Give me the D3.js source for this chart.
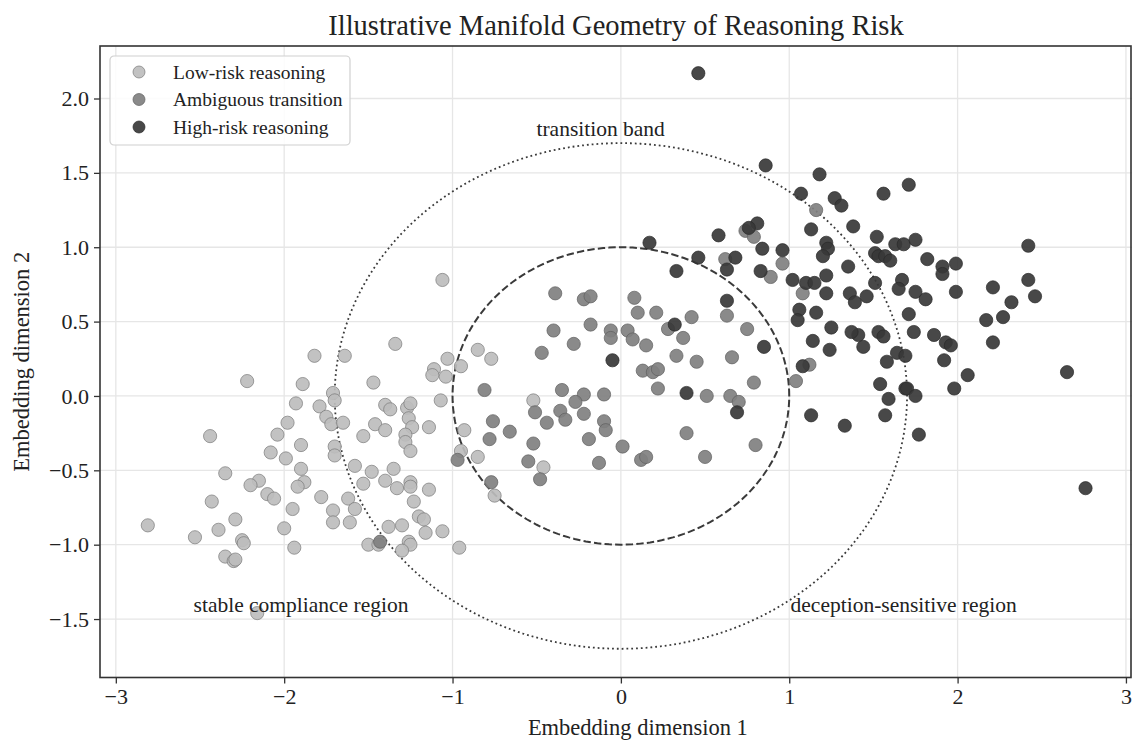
<!DOCTYPE html>
<html>
  <head>
    <meta charset="utf-8">
    <script src="https://d3js.org/d3.v7.min.js"></script>
    <style>
      body { margin: 0; background: #fff; }
      svg text { font-family: "Liberation Serif", "Times New Roman", serif; fill: #222; }
    </style>
  </head>
<body>
  <script type="text/javascript">

    // low-risk reasoning points [x, y]
    var lowRisk = [
      [-2.22, 0.10], [-1.82, 0.27], [-1.64, 0.27], [-1.34, 0.35], [-1.89, 0.08], [-1.47, 0.09],
      [-1.71, 0.02], [-1.70, -0.03], [-1.93, -0.05], [-1.79, -0.07], [-1.40, -0.06], [-1.37, -0.09],
      [-1.75, -0.14], [-1.98, -0.18], [-1.72, -0.19], [-1.65, -0.18], [-1.46, -0.19], [-1.40, -0.23],
      [-2.44, -0.27], [-2.04, -0.26], [-1.53, -0.27], [-1.90, -0.33], [-2.08, -0.38], [-1.99, -0.42],
      [-1.70, -0.34], [-1.70, -0.40], [-1.58, -0.47], [-1.48, -0.51], [-1.35, -0.49], [-1.90, -0.49],
      [-2.35, -0.52], [-2.15, -0.57], [-2.20, -0.60], [-1.88, -0.58], [-1.92, -0.61], [-1.53, -0.59],
      [-1.40, -0.57], [-1.33, -0.62], [-2.10, -0.66], [-2.06, -0.69], [-1.78, -0.68], [-1.62, -0.69],
      [-2.43, -0.71], [-1.95, -0.76], [-1.71, -0.77], [-1.58, -0.76], [-2.29, -0.83], [-1.71, -0.85],
      [-1.61, -0.85], [-1.38, -0.88], [-2.81, -0.87], [-2.39, -0.90], [-2.00, -0.89], [-2.53, -0.95],
      [-2.25, -0.97], [-2.24, -0.99], [-1.94, -1.02], [-1.50, -1.00], [-1.44, -1.00], [-2.35, -1.08],
      [-2.30, -1.11], [-2.29, -1.10], [-2.16, -1.46], [-1.06, 0.78], [-0.85, 0.31], [-0.77, 0.25],
      [-1.03, 0.25], [-1.11, 0.18], [-1.12, 0.14], [-1.04, 0.13], [-0.95, 0.20], [-1.07, -0.03],
      [-1.27, -0.08], [-1.25, -0.05], [-1.26, -0.15], [-1.24, -0.21], [-1.14, -0.21], [-1.28, -0.26],
      [-1.28, -0.31], [-1.25, -0.37], [-1.25, -0.58], [-1.25, -0.61], [-1.14, -0.63], [-1.23, -0.71],
      [-0.52, -0.03], [-0.93, -0.23], [-0.95, -0.37], [-0.85, -0.41], [-0.46, -0.48], [-0.75, -0.67],
      [-1.20, -0.81], [-1.17, -0.83], [-1.30, -0.87], [-1.16, -0.92], [-1.06, -0.91], [-1.26, -0.98],
      [-1.25, -1.00], [-1.30, -1.04], [-0.96, -1.02]
    ];

    // ambiguous transition points
    var ambiguous = [
      [-0.39, 0.69], [-0.22, 0.65], [-0.18, 0.67], [0.08, 0.66], [0.10, 0.56], [0.21, 0.56],
      [-0.18, 0.48], [-0.40, 0.44], [-0.06, 0.44], [-0.06, 0.39], [0.04, 0.44], [0.07, 0.38],
      [-0.28, 0.35], [-0.47, 0.29], [0.15, 0.34], [0.28, 0.45], [0.33, 0.27], [0.13, 0.17],
      [0.19, 0.16], [0.22, 0.18], [0.22, 0.05], [-0.81, 0.04], [-0.35, 0.04], [-0.22, 0.01],
      [-0.10, 0.01], [-0.27, -0.04], [-0.51, -0.11], [-0.36, -0.10], [-0.33, -0.16], [-0.44, -0.18],
      [-0.22, -0.12], [-0.10, -0.17], [-0.09, -0.23], [-0.76, -0.17], [-0.66, -0.24], [-0.78, -0.29],
      [-0.52, -0.32], [-0.19, -0.29], [0.01, -0.34], [0.12, -0.43], [0.15, -0.41], [-0.13, -0.45],
      [-0.55, -0.44], [-0.48, -0.56], [-0.97, -0.43], [-0.77, -0.58], [0.74, 1.11], [0.79, 1.07],
      [1.16, 1.25], [0.62, 0.92], [0.96, 0.89], [0.89, 0.80], [1.08, 0.69], [0.42, 0.53],
      [0.63, 0.54], [0.37, 0.39], [0.75, 0.45], [0.45, 0.23], [0.66, 0.26], [0.51, 0.00],
      [0.65, 0.00], [0.70, -0.04], [0.79, 0.09], [0.39, -0.25], [0.50, -0.41], [0.80, -0.33],
      [1.04, 0.10], [1.12, 0.21], [-1.43, -0.98]
    ];

    // high-risk reasoning points
    var highRisk = [
      [0.46, 2.17], [0.17, 1.03], [0.33, 0.84], [0.32, 0.48], [-0.05, 0.24], [0.39, 0.02],
      [0.69, -0.11], [0.85, 0.33], [1.14, 0.37], [1.24, 0.31], [1.08, 0.20], [1.13, -0.13],
      [1.33, -0.20], [1.54, 0.08], [1.59, -0.02], [1.57, -0.13], [1.58, 0.23], [1.64, 0.29],
      [1.69, 0.27], [1.69, 0.05], [1.44, 0.33], [1.41, 0.41], [1.37, 0.43], [1.53, 0.43],
      [1.56, 0.40], [1.25, 0.46], [0.86, 1.55], [1.18, 1.49], [1.07, 1.36], [1.27, 1.33],
      [1.31, 1.28], [1.56, 1.36], [1.71, 1.42], [0.81, 1.16], [0.76, 1.13], [0.58, 1.08],
      [1.13, 1.12], [1.38, 1.14], [1.52, 1.07], [0.84, 0.99], [0.96, 0.98], [1.22, 1.03],
      [1.23, 0.99], [1.20, 0.94], [1.51, 0.96], [1.53, 0.94], [1.57, 0.94], [1.60, 0.91],
      [1.63, 1.02], [1.68, 1.02], [0.46, 0.93], [0.68, 0.93], [0.63, 0.85], [0.83, 0.84],
      [1.35, 0.87], [1.02, 0.78], [1.10, 0.76], [1.15, 0.76], [1.22, 0.81], [1.51, 0.76],
      [1.67, 0.78], [1.65, 0.72], [1.22, 0.69], [1.36, 0.69], [1.39, 0.63], [1.46, 0.67],
      [0.63, 0.64], [1.06, 0.58], [1.05, 0.51], [1.16, 0.56], [1.71, 0.55], [1.75, 1.05],
      [1.82, 0.92], [1.91, 0.87], [1.91, 0.82], [1.99, 0.89], [1.75, 0.70], [1.81, 0.65],
      [1.99, 0.70], [2.21, 0.73], [2.42, 1.01], [2.42, 0.78], [2.46, 0.67], [2.32, 0.63],
      [2.17, 0.51], [2.27, 0.53], [2.21, 0.36], [1.74, 0.43], [1.86, 0.41], [1.93, 0.36],
      [1.96, 0.34], [1.92, 0.24], [2.06, 0.14], [2.65, 0.16], [1.70, 0.05], [1.75, 0.00],
      [1.98, 0.05], [1.77, -0.26], [2.76, -0.62]
    ];

    var seriesNames = ["Low-risk reasoning", "Ambiguous transition", "High-risk reasoning"];
    var xTicks = [-3, -2, -1, 0, 1, 2, 3];
    var yTicks = [-1.5, -1.0, -0.5, 0.0, 0.5, 1.0, 1.5, 2.0];
    var circleRadii = [1.0, 1.7];   // dashed inner, dotted outer
    var notes = [
      {text: "transition band", x: -0.12, y: 1.78},
      {text: "stable compliance region", x: -1.9, y: -1.42},
      {text: "deception-sensitive region", x: 1.68, y: -1.42}
    ];

    var width = 1132, height = 742;
    var margin = {top: 46, right: 0, bottom: 64.5, left: 100};

    var svg = d3.select("body").append("svg")
        .attr("width", width)
        .attr("height", height);

    var x = d3.scaleLinear().domain([-3.094, 3.036]).range([margin.left, width - margin.right]);
    var y = d3.scaleLinear().domain([-1.893, 2.353]).range([height - margin.bottom, margin.top]);

    // grid
    svg.append("g").selectAll("line").data(xTicks).enter().append("line")
        .attr("x1", d => x(d)).attr("x2", d => x(d))
        .attr("y1", y.range()[0]).attr("y2", y.range()[1])
        .attr("stroke", "#e6e6e6").attr("stroke-width", 1.3);
    svg.append("g").selectAll("line").data(yTicks).enter().append("line")
        .attr("y1", d => y(d)).attr("y2", d => y(d))
        .attr("x1", x.range()[0]).attr("x2", x.range()[1])
        .attr("stroke", "#e6e6e6").attr("stroke-width", 1.3);

    // reference circles (drawn in data space)
    var circleLine = d3.line().x(d => x(d[0])).y(d => y(d[1]));
    function ring(r) {
      return d3.range(0, 361, 2).map(a => [r * Math.cos(a * Math.PI / 180), r * Math.sin(a * Math.PI / 180)]);
    }
    svg.append("path").attr("d", circleLine(ring(circleRadii[0])))
        .attr("fill", "none").attr("stroke", "#3a3a3a").attr("stroke-width", 2)
        .attr("stroke-dasharray", "7.4,3.2");
    svg.append("path").attr("d", circleLine(ring(circleRadii[1])))
        .attr("fill", "none").attr("stroke", "#3a3a3a").attr("stroke-width", 1.8)
        .attr("stroke-dasharray", "1.8,3");

    // scatter points
    var styles = [
      {data: lowRisk, fill: "#bdbdbd", stroke: "#7a7a7a"},
      {data: ambiguous, fill: "#808080", stroke: "#5e5e5e"},
      {data: highRisk, fill: "#383838", stroke: "#2a2a2a"}
    ];
    styles.forEach(function(s) {
      svg.append("g").selectAll("circle").data(s.data).enter().append("circle")
          .attr("cx", d => x(d[0]))
          .attr("cy", d => y(d[1]))
          .attr("r", 6.6)
          .attr("fill", s.fill)
          .attr("fill-opacity", 0.92)
          .attr("stroke", s.stroke)
          .attr("stroke-width", 0.7);
    });

    // annotations
    svg.append("g").selectAll("text").data(notes).enter().append("text")
        .attr("x", d => x(d.x)).attr("y", d => y(d.y))
        .attr("text-anchor", "middle")
        .attr("dominant-baseline", "middle")
        .style("font-size", "21.5px")
        .text(d => d.text);

    // axes
    var fmtY = d => d3.format(".1f")(d).replace("-", "\u2212");
    var fmtX = d => String(d).replace("-", "\u2212");
    var xAxis = svg.append("g")
        .attr("transform", "translate(0," + y.range()[0] + ")")
        .call(d3.axisBottom(x).tickValues(xTicks).tickFormat(fmtX).tickSize(6).tickPadding(5));
    var yAxis = svg.append("g")
        .attr("transform", "translate(" + x.range()[0] + ",0)")
        .call(d3.axisLeft(y).tickValues(yTicks).tickFormat(fmtY).tickSize(6).tickPadding(5));
    [xAxis, yAxis].forEach(function(a) {
      a.select(".domain").remove();
      a.selectAll(".tick line").attr("stroke", "#333").attr("stroke-width", 1.3);
      a.selectAll(".tick text").style("font-size", "22px")
          .style("font-family", "'Liberation Serif', serif").attr("fill", "#222");
    });

    // frame
    svg.append("rect")
        .attr("x", x.range()[0]).attr("y", y.range()[1])
        .attr("width", x.range()[1] - x.range()[0] - 1)
        .attr("height", y.range()[0] - y.range()[1])
        .attr("fill", "none").attr("stroke", "#333").attr("stroke-width", 1.6);

    // titles
    svg.append("text").attr("x", 616).attr("y", 35)
        .attr("text-anchor", "middle").style("font-size", "28.5px")
        .text("Illustrative Manifold Geometry of Reasoning Risk");
    svg.append("text").attr("x", x(0) + 17).attr("y", 735)
        .attr("text-anchor", "middle").style("font-size", "22.5px")
        .text("Embedding dimension 1");
    svg.append("text")
        .attr("transform", "translate(29," + ((y.range()[0] + y.range()[1]) / 2) + ") rotate(-90)")
        .attr("text-anchor", "middle").style("font-size", "22.5px")
        .text("Embedding dimension 2");

    // legend
    var legend = svg.append("g").attr("transform", "translate(110,56)");
    legend.append("rect").attr("width", 240).attr("height", 89).attr("rx", 4)
        .attr("fill", "#fff").attr("fill-opacity", 0.85)
        .attr("stroke", "#d0d0d0").attr("stroke-width", 1.2);
    seriesNames.forEach(function(name, i) {
      var row = legend.append("g").attr("transform", "translate(0," + (16 + i * 27.5) + ")");
      row.append("circle").attr("cx", 29).attr("cy", 0).attr("r", 6)
          .attr("fill", styles[i].fill).attr("fill-opacity", 0.92)
          .attr("stroke", styles[i].stroke).attr("stroke-width", 0.7);
      row.append("text").attr("x", 63).attr("y", 6.5).style("font-size", "19.5px").text(name);
    });

  </script>
</body>
</html>
